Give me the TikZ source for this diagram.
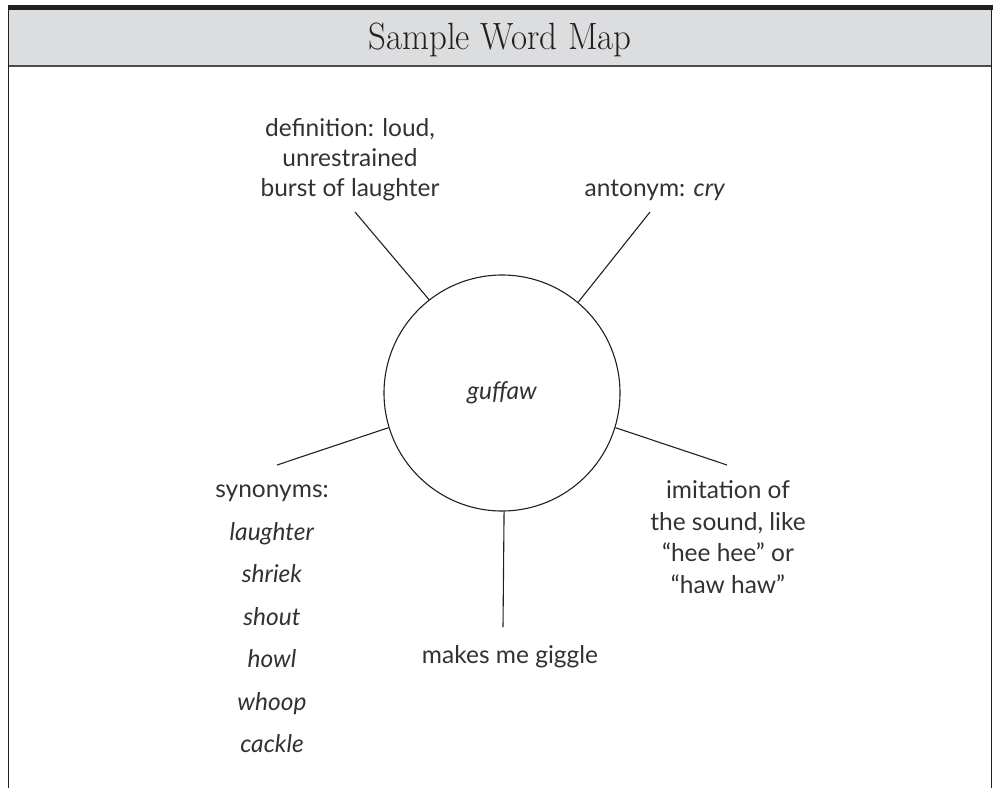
\documentclass[tikz,border=0pt]{standalone}
\usepackage{fontspec}
\setmainfont{Lato}
\newfontfamily\titlefont[FakeStretch=0.92]{Latin Modern Roman}
\usetikzlibrary{positioning}
\definecolor{headergrey}{RGB}{220,221,223}
\definecolor{framedark}{RGB}{35,31,32}
\definecolor{inkgrey}{RGB}{50,50,50}

\begin{document}
\begin{tikzpicture}[x=1pt, y=-1pt,
    mapword/.style={align=center, text=inkgrey, font=\fontsize{24.5}{30}\selectfont},
    spoke/.style={draw=framedark, line width=1.1pt}]
    \useasboundingbox (0,0) rectangle (995,788);

    % Header band and frame
    \fill[headergrey] (8.5,10) rectangle (991.5,66);
    \fill[framedark] (7.5,5) rectangle (992.5,10);
    \draw[framedark!80, line width=1.6pt] (8.5,66) -- (991.5,66);
    \draw[framedark, line width=1.6pt] (8.5,5) -- (8.5,788);
    \draw[framedark, line width=1.6pt] (991.5,5) -- (991.5,788);
    \node[anchor=base, text=framedark, font=\titlefont\fontsize{38}{44}\selectfont] (title) at (500,49) {Sample Word Map};

    % Centre word
    \node[circle, draw=framedark, line width=1.1pt, minimum size=236pt, inner sep=0pt,
          mapword] (word) at (502,393) {\itshape guffaw};

    % Labels
    \node[mapword] (definition) at (350,160) {definition: loud,\\ unrestrained\\ burst of laughter};
    \node[mapword] (antonym) at (655,190) {antonym: \textit{cry}};
    \node[mapword, font=\fontsize{24.5}{42.5}\selectfont] (synonyms) at (272,619)
        {synonyms:\\ \textit{laughter}\\ \textit{shriek}\\ \textit{shout}\\ \textit{howl}\\ \textit{whoop}\\ \textit{cackle}};
    \node[mapword, font=\fontsize{24.5}{31.7}\selectfont] (imitation) at (728,537)
        {imitation of\\ the sound, like\\ ``hee hee'' or\\ ``haw haw''};
    \node[mapword] (giggle) at (510,657) {makes me giggle};

    % Spoke ends
    \coordinate (defend) at (355,212);
    \coordinate (antend) at (650,212);
    \coordinate (synend) at (277,465);
    \coordinate (imend) at (727,465);
    \coordinate (gigend) at (503,627);

    % Spokes
    \draw[spoke] (word.128.5) -- (defend);
    \draw[spoke] (word.50.7) -- (antend);
    \draw[spoke] (word.197.7) -- (synend);
    \draw[spoke] (word.-17.2) -- (imend);
    \draw[spoke] (word.-89.3) -- (gigend);
\end{tikzpicture}
\end{document}
